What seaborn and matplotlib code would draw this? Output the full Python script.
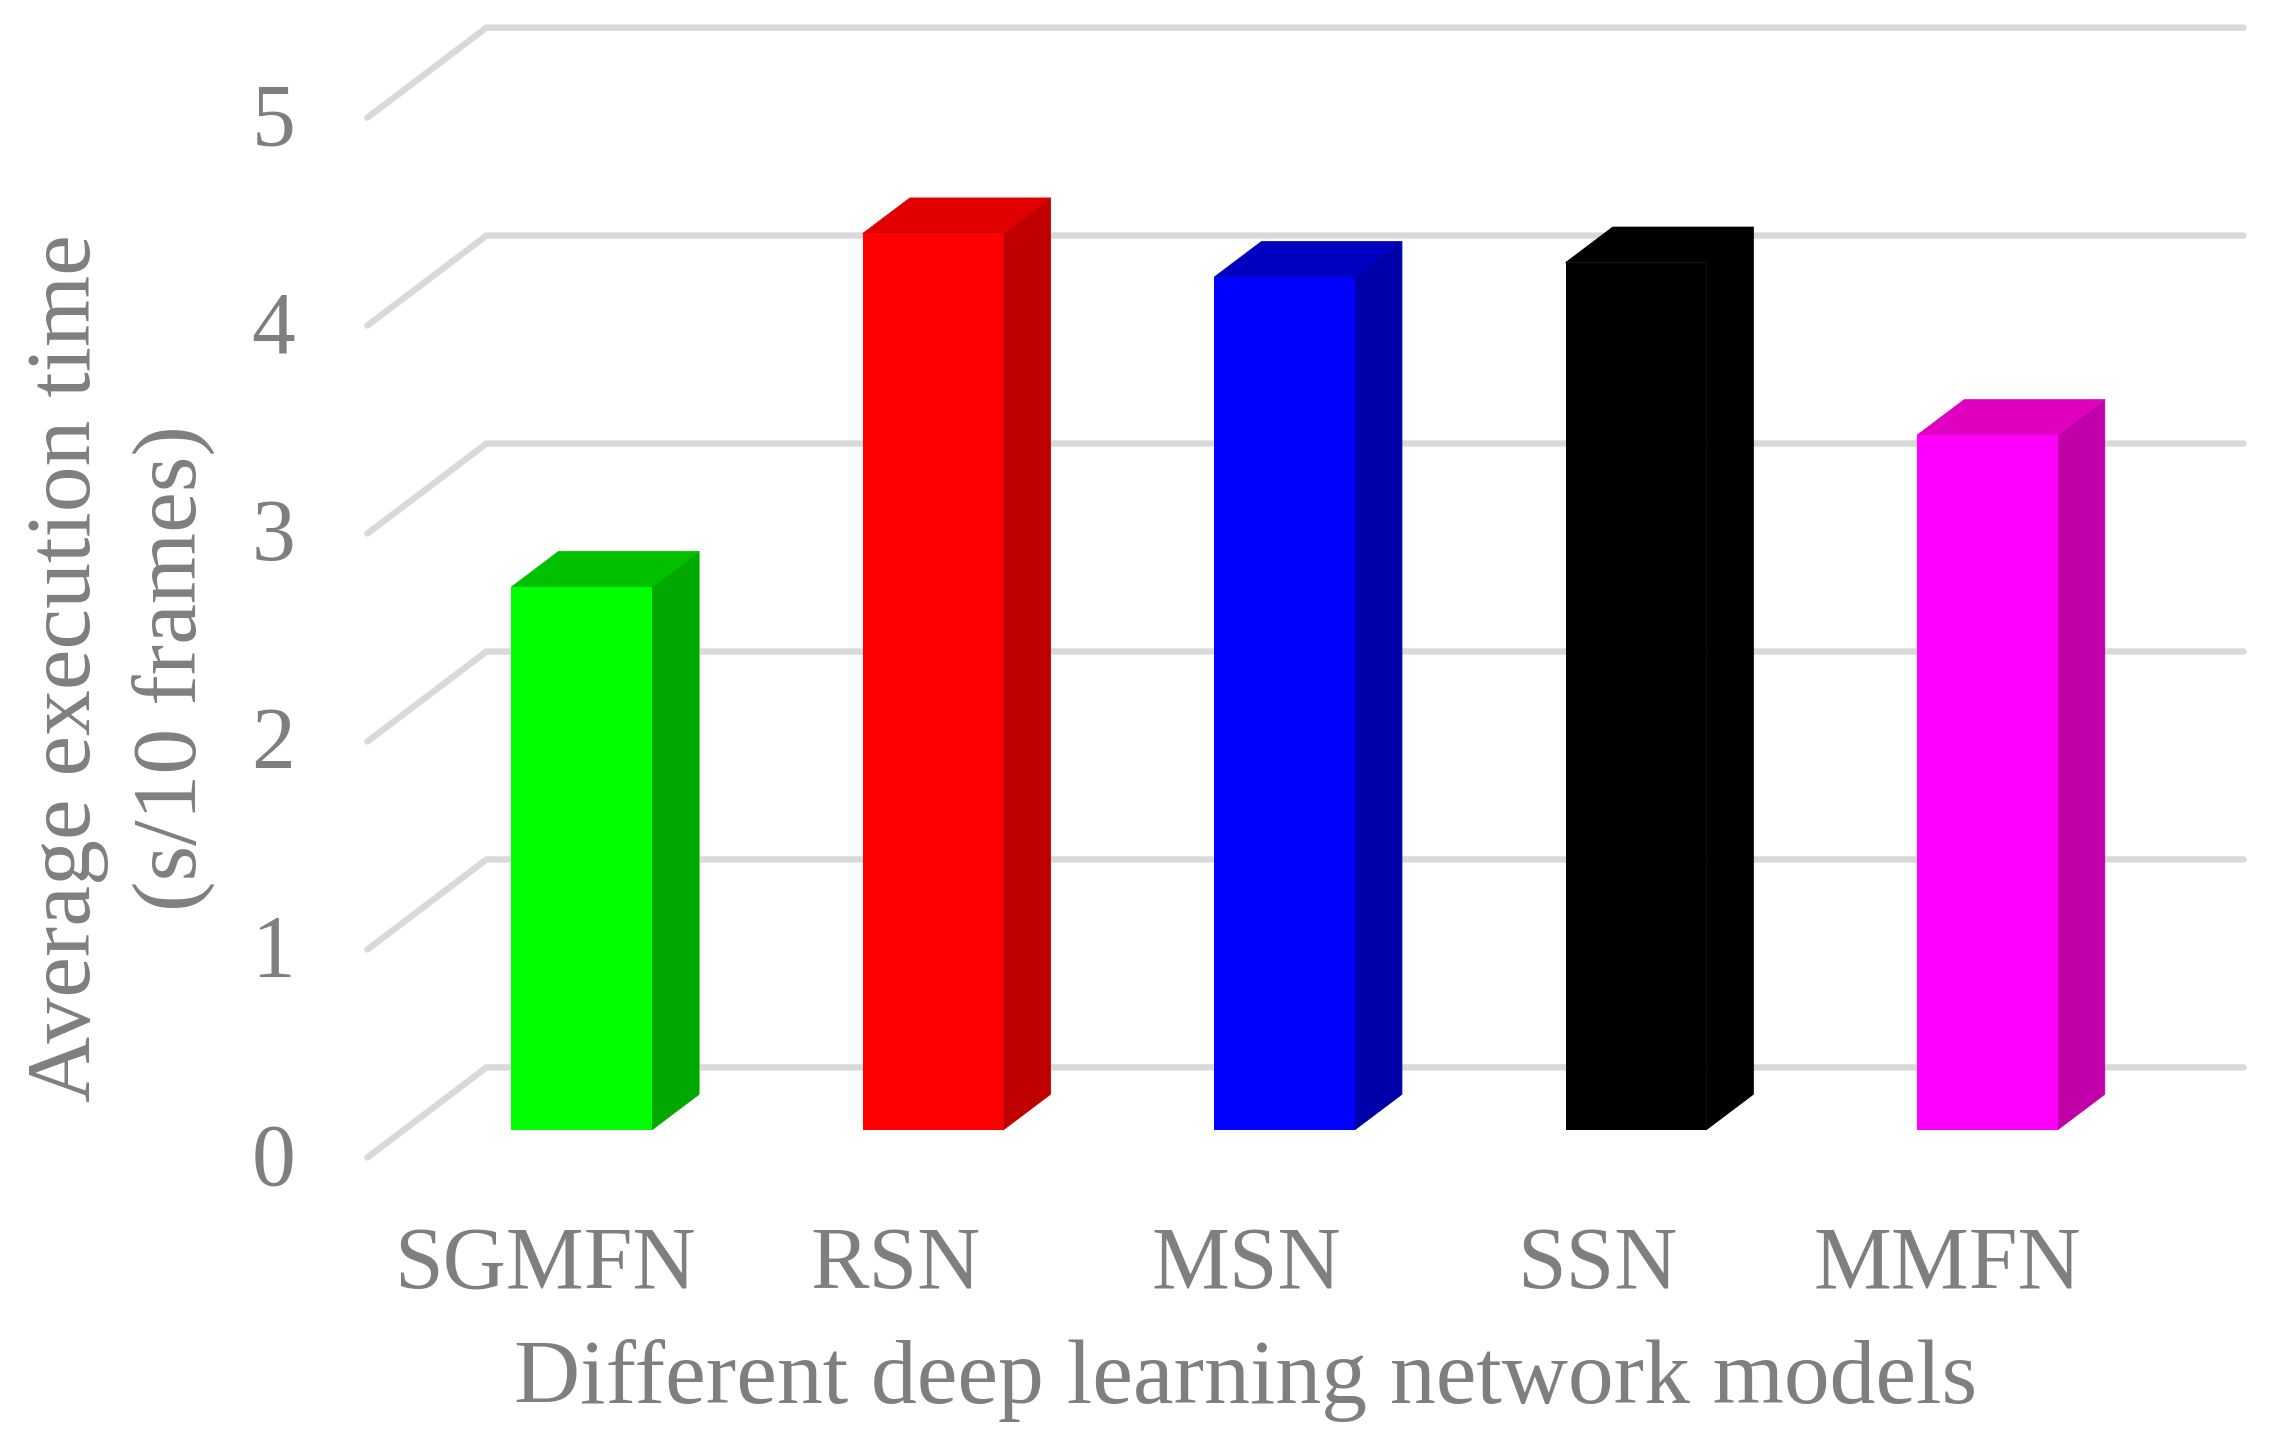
import matplotlib
matplotlib.use("Agg")
import matplotlib.pyplot as plt
import pandas as pd
import seaborn as sns
from matplotlib.patches import Polygon
from matplotlib.transforms import ScaledTranslation

models = ["SGMFN", "RSN", "MSN", "SSN", "MMFN"]
times = [2.61, 4.31, 4.10, 4.17, 3.34]
front_colors = ["#00ff00", "#ff0000", "#0000ff", "#000000", "#ff00ff"]
side_colors = ["#00a800", "#c00000", "#0000a8", "#000000", "#c000a8"]
top_colors = ["#00c000", "#e00000", "#0000c0", "#000000", "#e000c0"]
y_ticks = [0, 1, 2, 3, 4, 5]

GREY = "#7f7f7f"
sns.set_style("white")
plt.rcParams["font.family"] = ["Liberation Serif", "DejaVu Serif"]
fig = plt.figure(figsize=(22.77, 14.45), dpi=100)
L, R, T, B = 253, 1545, 19, 797
W, H = 1568, 995
ax = fig.add_axes([L / W, 1 - B / H, (R - L) / W, (B - T) / H])

df = pd.DataFrame({"model": models, "time": times})
sns.barplot(data=df, x="model", y="time", hue="model", palette=front_colors,
            width=0.40, legend=False, ax=ax, zorder=3, saturation=1, dodge=False,
            linewidth=0, edgecolor="none")

UX, UY = 242, 143.2
ax.set_xlim((L - 400.5) / UX, (R - 400.5) / UX)
ax.set_ylim((778 - B) / UY, (778 - T) / UY)

dx, dy = 32.5 / UX, 24.5 / UY
wx, wy = 82 / UX, 62 / UY
y0 = (778 - B) / UY
x0, x1 = ax.get_xlim()
for k in y_ticks:
    ax.plot([x0, x0 + wx, x1], [y0 + k, y0 + k + wy, y0 + k + wy], color="#d9d9d9",
            lw=4.6, solid_capstyle="round", solid_joinstyle="round", zorder=1, clip_on=False)

hw = 0.20
for i, v in enumerate(times):
    xl, xr = i - hw, i + hw
    ax.add_patch(Polygon([(xr, 0), (xr + dx, dy), (xr + dx, v + dy), (xr, v)],
                         closed=True, fc=side_colors[i], ec=side_colors[i], lw=0.6, zorder=2.5))
    ax.add_patch(Polygon([(xl, v), (xr, v), (xr + dx, v + dy), (xl + dx, v + dy)],
                         closed=True, fc=top_colors[i], ec=top_colors[i], lw=0.6, zorder=2.6))

for s in ax.spines.values():
    s.set_visible(False)
ax.set_yticks([y0 + k for k in y_ticks], [str(k) for k in y_ticks])
ax.set_xticks([i - 25 / UX - i * 0.6 / UX for i in range(len(models))], models)
ax.tick_params(axis="both", length=0, labelsize=63, labelcolor=GREY)
ax.tick_params(axis="y", pad=52)
ax.tick_params(axis="x", pad=49)
for lab in ax.get_yticklabels():
    lab.set_transform(lab.get_transform() + ScaledTranslation(0, 3 / 72, fig.dpi_scale_trans))
ax.set_xlabel("Different deep learning network models", fontsize=66, color=GREY)
ax.set_ylabel("Average execution time\n(s/10 frames)", fontsize=66, color=GREY, linespacing=1.36)
ax.xaxis.set_label_coords((858 - L) / (R - L), -(979 - B) / (B - T))
ax.yaxis.set_label_coords((18 - L) / (R - L), (B - 460) / (B - T))
ax.xaxis.label.set_verticalalignment("bottom")
ax.yaxis.label.set_verticalalignment("top")
ax.grid(False)
fig.savefig("out.png", dpi=100)
